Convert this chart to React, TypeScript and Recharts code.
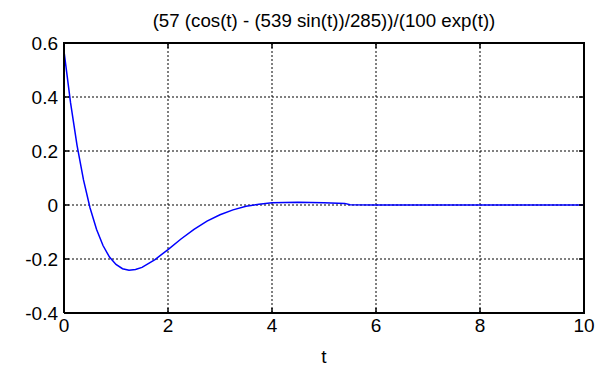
import {
  LineChart,
  Line,
  XAxis,
  YAxis,
  CartesianGrid,
} from "recharts";

const TITLE = "(57 (cos(t) - (539 sin(t))/285))/(100 exp(t))";

// values
const tValues = [
  0, 0.125, 0.25, 0.375, 0.5, 0.625, 0.75, 0.875, 1, 1.125, 1.25, 1.375, 1.5,
  1.75, 2, 2.25, 2.5, 2.75, 3, 3.25, 3.5, 3.75, 4, 4.5, 5, 5.4, 5.5, 6, 7, 8,
  9, 10,
];
const fValues = [
  0.57, 0.38, 0.222, 0.093, -0.01, -0.09, -0.15, -0.193, -0.22, -0.236,
  -0.242, -0.239, -0.231, -0.202, -0.165, -0.126, -0.09, -0.06, -0.036,
  -0.018, -0.005, 0.003, 0.008, 0.01, 0.008, 0.006, 0.001, 0, 0, 0, 0, 0,
];

const xTicks = [0, 2, 4, 6, 8, 10];
const yTicks = [-0.4, -0.2, 0, 0.2, 0.4, 0.6];

const data = tValues.map((t, i) => ({ t, f: fValues[i] }));

const FONT = "'Liberation Sans', Arial, sans-serif";
const PLOT_TOP = 43;
const PLOT_RIGHT = 584;
const TICK = 5;
const X_MAX = xTicks[xTicks.length - 1];
const Y_MAX = yTicks[yTicks.length - 1];

// tick label plus MATLAB-style inward tick marks (bottom + top);
// the last tick also closes the box on the right
const XTick = ({ x, y, payload }: any) => (
  <g>
    <line x1={x} x2={x} y1={y} y2={y - TICK} stroke="#000" strokeWidth={1.5} />
    <line x1={x} x2={x} y1={PLOT_TOP} y2={PLOT_TOP + TICK} stroke="#000" strokeWidth={1.5} />
    {payload.value === X_MAX && (
      <line x1={x} x2={x} y1={y + 1} y2={PLOT_TOP - 1} stroke="#000" strokeWidth={2} />
    )}
    <text x={x} y={y + 6} dy="0.71em" textAnchor="middle" fill="#000" fontSize={19} fontFamily={FONT}>
      {payload.value}
    </text>
  </g>
);

// tick label plus inward tick marks (left + right);
// the top tick also closes the box on top
const YTick = ({ x, y, payload }: any) => (
  <g>
    <line x1={x} x2={x + TICK} y1={y} y2={y} stroke="#000" strokeWidth={1.5} />
    <line x1={PLOT_RIGHT - TICK} x2={PLOT_RIGHT} y1={y} y2={y} stroke="#000" strokeWidth={1.5} />
    {payload.value === Y_MAX && (
      <line x1={x - 1} x2={PLOT_RIGHT + 1} y1={y} y2={y} stroke="#000" strokeWidth={2} />
    )}
    <text x={x - 6} y={y} dy="0.355em" textAnchor="end" fill="#000" fontSize={19} fontFamily={FONT}>
      {`${payload.value}`}
    </text>
  </g>
);

const frame = { stroke: "#000", strokeWidth: 2 };

const App = () => {
  return (
    <div style={{ position: "fixed", left: 0, top: 0, width: 603, height: 369, background: "#fff" }}>
      <div
        style={{
          position: "absolute",
          left: 64,
          width: 520,
          top: 10,
          lineHeight: "22px",
          textAlign: "center",
          fontFamily: FONT,
          fontSize: 18.7,
          color: "#000",
        }}
      >
        {TITLE}
      </div>
      <LineChart
        width={603}
        height={369}
        data={data}
        margin={{ top: PLOT_TOP, right: 603 - PLOT_RIGHT, bottom: 0, left: 0 }}
      >
        <CartesianGrid
          stroke="#000"
          strokeDasharray="2 2"
          horizontalValues={yTicks}
          verticalValues={xTicks}
        />
        <XAxis
          dataKey="t"
          type="number"
          domain={[0, 10]}
          ticks={xTicks}
          height={56}
          axisLine={frame}
          tickLine={false}
          tickSize={0}
          tickMargin={0}
          tick={<XTick />}
          label={{ value: "t", position: "insideBottom", offset: 6, fill: "#000", fontSize: 19, fontFamily: FONT }}
        />
        <YAxis
          type="number"
          domain={[-0.4, 0.6]}
          ticks={yTicks}
          width={64}
          axisLine={frame}
          tickLine={false}
          tickSize={0}
          tickMargin={0}
          tick={<YTick />}
        />
        <Line
          dataKey="f"
          type="linear"
          stroke="#0000ff"
          strokeWidth={1.5}
          dot={false}
          isAnimationActive={false}
        />
      </LineChart>
    </div>
  );
};

export default App;
